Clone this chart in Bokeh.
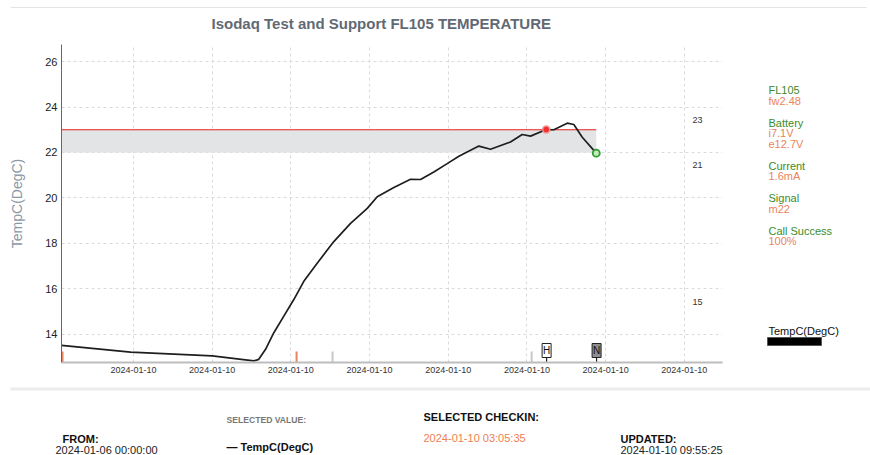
from bokeh.plotting import figure
from bokeh.models import Range1d, FixedTicker
from bokeh.layouts import column, row
from bokeh.embed import file_html
from bokeh.resources import INLINE
from bokeh.core.properties import value

FONT = "Liberation Sans"

# ---------------- data ----------------
time_h = [0.086, 0.963, 2.001, 2.530, 2.593, 2.679, 2.784, 2.911, 3.038, 3.165,
          3.335, 3.546, 3.759, 3.971, 4.098, 4.309, 4.521, 4.648, 4.817, 4.987,
          5.135, 5.389, 5.537, 5.791, 5.940, 6.046, 6.245, 6.342, 6.512, 6.596,
          6.703, 6.881]
temp_c = [13.51, 13.22, 13.05, 12.83, 12.90, 13.34, 14.07, 14.80, 15.53, 16.33,
          17.13, 18.08, 18.88, 19.54, 20.05, 20.46, 20.82, 20.81, 21.14, 21.51,
          21.83, 22.28, 22.14, 22.46, 22.79, 22.72, 23.01, 23.00, 23.29, 23.23,
          22.67, 21.97]
selected_index = 26
band_low = 22
band_high = 23

x_ticks = [1, 2, 3, 4, 5, 6, 7, 8]
x_tick_labels = ["2024-01-10"] * 8
y_ticks = [14, 16, 18, 20, 22, 24, 26]
side_values = [23, 21, 15]

event_times = [0.099, 3.073, 3.530, 6.060]
event_kinds = ["alarm", "alarm", "call", "call"]
flag_times = [6.250, 6.885]
flag_letters = ["H", "N"]

status_names = ["FL105", "Battery", "Current", "Signal", "Call Success"]
status_values = [["fw2.48"], ["i7.1V", "e12.7V"], ["1.6mA"], ["m22"], ["100%"]]
series_name = "TempC(DegC)"
title_text = "Isodaq Test and Support FL105 TEMPERATURE"
from_text = "2024-01-06 00:00:00"
checkin_text = "2024-01-10 03:05:35"
updated_text = "2024-01-10 09:55:25"

GREEN = "#3a8c2c"
ORANGE = "#e8845c"


# ---------------- helpers for pixel-space text panels ----------------
def text_fig(w, h, x0, y0, y1=None, bottom_border=0):
    if y1 is None:
        y1 = y0 + h
    f = figure(width=w, height=h, x_range=Range1d(x0, x0 + w),
               y_range=Range1d(y1, y0), output_backend="svg",
               toolbar_location=None, x_axis_type=None, y_axis_type=None,
               min_border=0, min_border_bottom=bottom_border)
    f.outline_line_color = None
    f.grid.visible = False
    return f


def put(f, t, x, y, size, color, style="normal", align="left"):
    f.text(x=[x], y=[y], text=[t], text_font=value(FONT), text_font_size=size,
           text_color=color, text_font_style=style, text_align=align,
           text_baseline="middle")


# ---------------- header ----------------
header = text_fig(870, 44, 0, 0)
header.segment(x0=[10], y0=[7], x1=[866], y1=[7], line_color="#e4e4e4", line_width=1)
put(header, title_text, 211, 23, "15px", "#5f6a74", "bold")

# ---------------- main chart ----------------
X0, X1 = 0.086, 8.485
Y0, Y1 = 12.76, 26.75
FRAME_H = 318

p = figure(width=760, height=342, output_backend="svg", toolbar_location=None,
           x_range=Range1d(X0, X1), y_range=Range1d(Y0, Y1),
           min_border_left=61, min_border_right=38, min_border_top=0,
           min_border_bottom=24)
p.outline_line_color = None

p.xaxis.ticker = FixedTicker(ticks=x_ticks)
p.xaxis.major_label_overrides = {t: l for t, l in zip(x_ticks, x_tick_labels)}
p.yaxis.ticker = FixedTicker(ticks=y_ticks)
for ax in (p.xaxis, p.yaxis):
    ax.major_tick_out = 0
    ax.major_tick_in = 0
    ax.minor_tick_out = 0
    ax.minor_tick_in = 0
    ax.major_label_text_font = FONT
    ax.major_label_standoff = 4
p.xaxis.axis_line_color = "#bdbdbd"
p.xaxis.axis_line_width = 2
p.xaxis.major_label_text_font_size = "9px"
p.xaxis.major_label_text_color = "#333333"
p.yaxis.axis_line_color = "#666666"
p.yaxis.major_label_text_font_size = "11px"
p.yaxis.major_label_text_color = "#222222"
p.yaxis.axis_label = series_name
p.yaxis.axis_label_text_font = FONT
p.yaxis.axis_label_text_font_size = "14px"
p.yaxis.axis_label_text_font_style = "normal"
p.yaxis.axis_label_text_color = "#8b99a6"
p.yaxis.axis_label_standoff = 17

for g in (p.xgrid, p.ygrid):
    g.grid_line_color = "#dadada"
    g.grid_line_dash = "3 3"

# band of limits
p.quad(left=[time_h[0]], right=[time_h[-1]], bottom=[band_low], top=[band_high],
       fill_color="#e2e4e5", line_color=None)
p.segment(x0=[time_h[0]], y0=[band_high], x1=[time_h[-1]], y1=[band_high],
          line_color="#e8201c", line_width=1.2)

# series
p.line(time_h, temp_c, line_color="#1e1e1e", line_width=1.7)
p.scatter([time_h[selected_index]], [temp_c[selected_index]], size=7,
          fill_color="#f03030", line_color="#f59090", line_width=1.5)
p.scatter([time_h[-1]], [temp_c[-1]], size=7, fill_color="#c6e8c0",
          line_color="#2e9e2e", line_width=1.8)

# side value labels
p.text(x=[X1 - 0.38] * len(side_values), y=side_values,
       text=[str(v) for v in side_values], text_font=value(FONT),
       text_font_size="9px", text_color="#333333", text_baseline="middle",
       text_align="left", y_offset=-10)

# event ticks on the time axis
unit_per_px = (Y1 - Y0) / FRAME_H
kind_color = {"alarm": "#e8845c", "call": "#c8c8c8"}
p.segment(x0=event_times, y0=[Y0] * len(event_times), x1=event_times,
          y1=[Y0 + 11 * unit_per_px] * len(event_times),
          line_color=[kind_color[k] for k in event_kinds], line_width=2)

# flags
p.segment(x0=flag_times, y0=[Y0] * 2, x1=flag_times,
          y1=[Y0 + 5 * unit_per_px] * 2, line_color="#222222", line_width=1.2)
p.rect(x=flag_times, y=[Y0 + 12 * unit_per_px] * 2, width=9, height=14,
       width_units="screen", height_units="screen",
       fill_color=["#ffffff", "#8e8e8e"], line_color="#222222", line_width=1)
p.text(x=flag_times, y=[Y0 + 12 * unit_per_px] * 2, text=flag_letters,
       text_font=value(FONT), text_font_size="10px", text_color="#111111",
       text_align="center", text_baseline="middle")

# ---------------- side status panel (frame spans page y 44..362) ----------------
side = text_fig(110, 342, 760, 44, y1=362, bottom_border=24)
ry = 89.5
for name, vals in zip(status_names, status_values):
    put(side, name, 768, ry, "11px", GREEN)
    for v in vals:
        ry += 10.5
        put(side, v, 768, ry, "11px", ORANGE)
    ry += 22
put(side, series_name, 768, 330, "11px", "#111111")
side.quad(left=[767], right=[821], top=[337], bottom=[345],
          fill_color="#000000", line_color="#555555", line_width=1)

# ---------------- footer ----------------
footer = text_fig(870, 69, 0, 386)
footer.segment(x0=[10], y0=[388.5], x1=[870], y1=[388.5], line_color="#ececec",
               line_width=3)
put(footer, "FROM:", 62, 438, "11px", "#111111", "bold")
put(footer, from_text, 55, 449, "11px", "#222222")
put(footer, "SELECTED VALUE:", 226, 419, "8.6px", "#777777", "bold")
put(footer, "\u2014 " + series_name, 226, 446, "11px", "#111111", "bold")
put(footer, "SELECTED CHECKIN:", 423, 416, "11px", "#111111", "bold")
put(footer, checkin_text, 423, 437, "11px", "#f07e50")
put(footer, "UPDATED:", 620, 438, "11px", "#111111", "bold")
put(footer, updated_text, 620, 449, "11px", "#222222")

layout = column(header, row(p, side), footer)

open("out.html", "w").write(file_html(layout, INLINE))
